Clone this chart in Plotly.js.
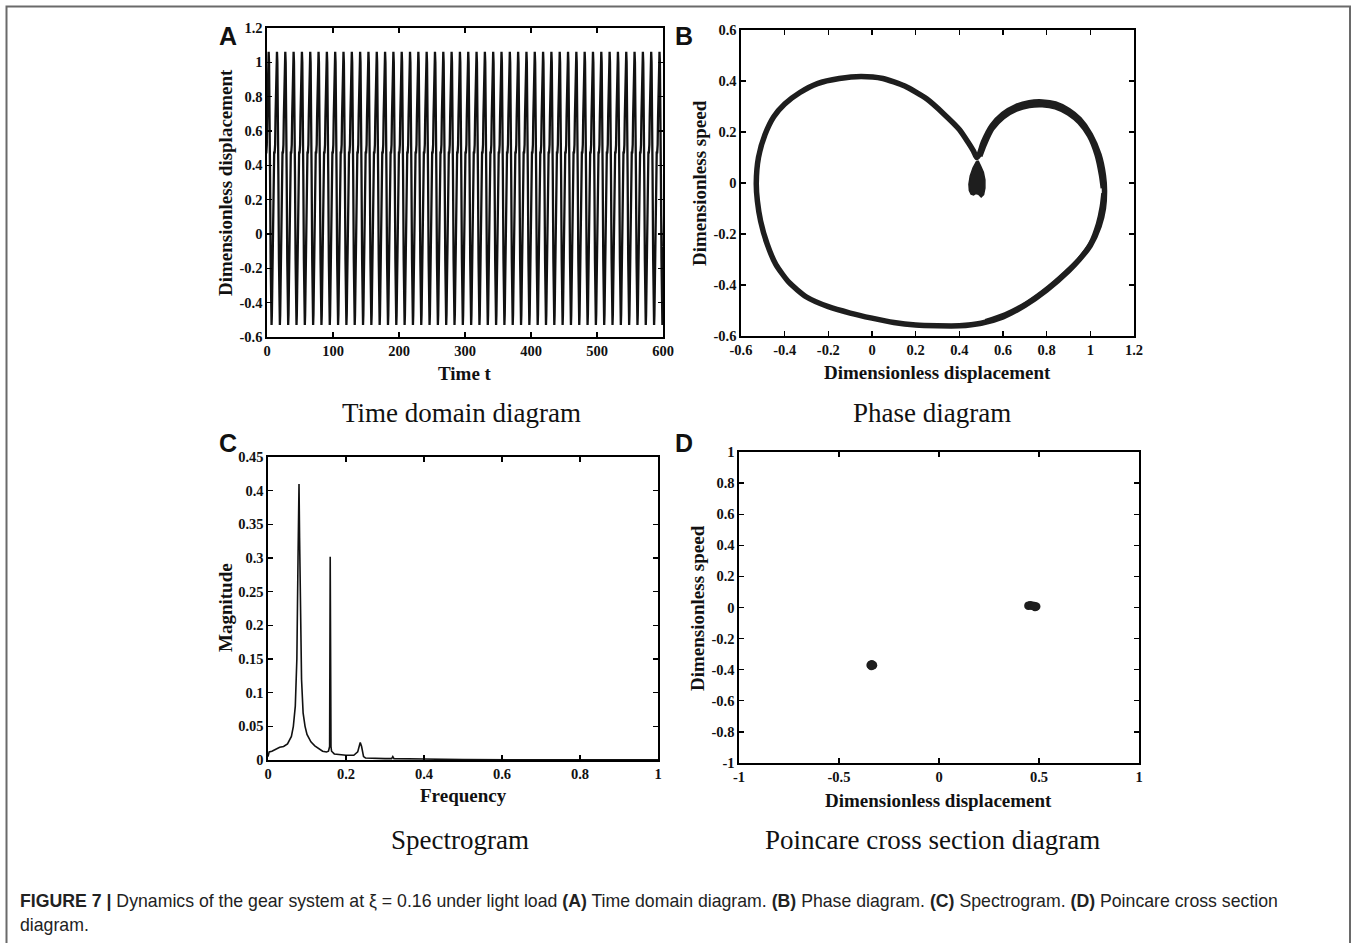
<!DOCTYPE html>
<html>
<head>
<meta charset="utf-8">
<script src="https://cdn.plot.ly/plotly-3.0.1.min.js"></script>
<style>html,body{margin:0;padding:0;background:#fff;} #chart{width:1354px;height:943px;}</style>
</head>
<body>
<div id="chart"></div>
<script>
// ---------- (A) time domain: one measured cycle, repeated with the observed period ----------
const cycleT = [0, 0.5, 1.0, 1.8, 2.6, 3.2, 3.6, 4.0, 4.6, 5.0, 5.4, 6.0, 6.8, 7.6, 8.2, 8.8, 9.5, 10.3, 11.2, 12.0, 12.6];
const cycleX = [-0.53, -0.47, -0.33, -0.05, 0.2, 0.38, 0.45, 0.48, 0.47, 0.49, 0.52, 0.68, 0.88, 1.03, 1.062, 1.0, 0.78, 0.35, -0.15, -0.46, -0.53];
const period = 12.6;
const firstCycleStart = -5.7;
const nCycles = 49;

// ---------- (B) phase diagram ----------
const phaseX = [-0.53, -0.52, -0.49, -0.45, -0.40, -0.33, -0.25, -0.15, -0.05, 0.05, 0.15, 0.25, 0.33, 0.40, 0.44, 0.465, 0.479,
  0.49, 0.51, 0.55, 0.60, 0.66, 0.72, 0.78, 0.84, 0.90, 0.95, 1.00, 1.04, 1.06, 1.065, 1.06, 1.04, 1.00, 0.95, 0.90, 0.80, 0.70, 0.60, 0.50, 0.40, 0.30, 0.20, 0.10, 0.0, -0.10, -0.20, -0.30, -0.38, -0.44, -0.48, -0.51, -0.525, -0.53];
const phaseV = [0.0, 0.10, 0.19, 0.26, 0.31, 0.355, 0.39, 0.41, 0.418, 0.41, 0.38, 0.33, 0.27, 0.21, 0.16, 0.125, 0.10,
  0.11, 0.16, 0.225, 0.27, 0.30, 0.315, 0.318, 0.31, 0.285, 0.25, 0.19, 0.11, 0.03, -0.03, -0.10, -0.17, -0.245, -0.30, -0.345, -0.42, -0.48, -0.525, -0.55, -0.56, -0.56, -0.557, -0.547, -0.53, -0.51, -0.485, -0.447, -0.39, -0.32, -0.24, -0.15, -0.07, 0.0];
// inner edge of the wider top of the right-hand lobe
const lobeInnerX = [0.495, 0.515, 0.55, 0.60, 0.66, 0.72, 0.78, 0.84, 0.90, 0.95, 0.995, 1.03, 1.05, 1.058];
const lobeInnerV = [0.105, 0.15, 0.212, 0.258, 0.288, 0.303, 0.306, 0.298, 0.273, 0.238, 0.185, 0.11, 0.03, -0.02];
// lower-right band, slightly wider
const lowInnerX = [1.06, 1.052, 1.035, 1.0, 0.955, 0.905, 0.81, 0.71, 0.61, 0.52];
const lowInnerV = [-0.04, -0.095, -0.16, -0.238, -0.292, -0.336, -0.408, -0.47, -0.515, -0.542];
// small pear-shaped knot near x = 0.48
const knotX = [0.479, 0.463, 0.450, 0.444, 0.446, 0.454, 0.465, 0.476, 0.488, 0.500, 0.511, 0.517, 0.517, 0.510, 0.498, 0.487, 0.479];
const knotV = [0.085, 0.06, 0.028, -0.005, -0.03, -0.044, -0.047, -0.041, -0.044, -0.055, -0.046, -0.02, 0.012, 0.042, 0.065, 0.085, 0.085];

// ---------- (C) spectrogram ----------
const specF = [0, 0.003, 0.01, 0.02, 0.03, 0.04, 0.05, 0.06, 0.065, 0.07, 0.074, 0.077, 0.0795, 0.081, 0.083, 0.086, 0.09, 0.095, 0.10, 0.11, 0.12, 0.13, 0.14, 0.15, 0.155, 0.158, 0.1595, 0.1615, 0.163, 0.17, 0.18, 0.20, 0.22, 0.23, 0.2365, 0.24, 0.245, 0.25, 0.30, 0.317, 0.32, 0.323, 0.40, 0.47, 0.50, 0.70, 1.0];
const specM = [0.005, 0.012, 0.013, 0.016, 0.019, 0.02, 0.024, 0.035, 0.05, 0.08, 0.15, 0.30, 0.41, 0.33, 0.2, 0.12, 0.07, 0.05, 0.038, 0.027, 0.021, 0.017, 0.013, 0.012, 0.013, 0.02, 0.302, 0.02, 0.013, 0.009, 0.008, 0.007, 0.007, 0.012, 0.026, 0.02, 0.005, 0.003, 0.002, 0.002, 0.005, 0.002, 0.0015, 0.001, 0.0005, 0.0004, 0.0003];

// ---------- (D) Poincare section ----------
const poinX = [-0.342, -0.336, -0.33, -0.338, 0.447, 0.456, 0.466, 0.476, 0.486, 0.48];
const poinY = [-0.37, -0.365, -0.372, -0.376, 0.012, 0.014, 0.012, 0.01, 0.006, 0.004];

// ---------- tick labels ----------
const tickA_x = [0, 100, 200, 300, 400, 500, 600];
const tickA_y = [-0.6, -0.4, -0.2, 0, 0.2, 0.4, 0.6, 0.8, 1, 1.2];
const tickB_x = [-0.6, -0.4, -0.2, 0, 0.2, 0.4, 0.6, 0.8, 1, 1.2];
const tickB_y = [-0.6, -0.4, -0.2, 0, 0.2, 0.4, 0.6];
const tickC_x = [0, 0.2, 0.4, 0.6, 0.8, 1];
const tickC_y = [0, 0.05, 0.1, 0.15, 0.2, 0.25, 0.3, 0.35, 0.4, 0.45];
const tickD_x = [-1, -0.5, 0, 0.5, 1];
const tickD_y = [-1, -0.8, -0.6, -0.4, -0.2, 0, 0.2, 0.4, 0.6, 0.8, 1];

// build time series from the repeated cycle
const tdT = [], tdX = [];
for (let k = 0; k < nCycles; k++) {
  for (let i = 0; i < cycleT.length - 1; i++) {
    tdT.push(firstCycleStart + k * period + cycleT[i]);
    tdX.push(cycleX[i]);
  }
}

const W = 1354, H = 943;
const px = v => v / W, py = v => 1 - v / H;
const lbl = v => String(v);

const serif = 'Liberation Serif, Times New Roman, serif';
const sans = 'Liberation Sans, Arial, sans-serif';

function axis(dom, range, ticks, anchor) {
  return {
    domain: dom, range: range, anchor: anchor,
    tickmode: 'array', tickvals: ticks, ticktext: ticks.map(lbl),
    ticks: 'inside', ticklen: 5, tickwidth: 1.3, tickcolor: '#000',
    showline: true, linecolor: '#000', linewidth: 1.6, mirror: 'ticks',
    showgrid: false, zeroline: false,
    tickfont: {family: serif, size: 14.5, color: '#111', weight: 'bold'},
    fixedrange: true
  };
}

const band = {color: '#1e1e1e', shape: 'spline', smoothing: 0.6};
const traces = [
  {x: tdT, y: tdX, xaxis: 'x', yaxis: 'y', mode: 'lines', line: {color: '#111', width: 2.3}, hoverinfo: 'skip'},
  {x: phaseX, y: phaseV, xaxis: 'x2', yaxis: 'y2', mode: 'lines', line: Object.assign({width: 5.5}, band), hoverinfo: 'skip'},
  {x: lobeInnerX, y: lobeInnerV, xaxis: 'x2', yaxis: 'y2', mode: 'lines', line: Object.assign({width: 5}, band), hoverinfo: 'skip'},
  {x: lowInnerX, y: lowInnerV, xaxis: 'x2', yaxis: 'y2', mode: 'lines', line: Object.assign({width: 4.5}, band), hoverinfo: 'skip'},
  {x: knotX, y: knotV, xaxis: 'x2', yaxis: 'y2', mode: 'lines', fill: 'toself', fillcolor: '#1e1e1e', line: {color: '#1e1e1e', width: 1.5}, hoverinfo: 'skip'},
  {x: specF, y: specM, xaxis: 'x3', yaxis: 'y3', mode: 'lines', line: {color: '#111', width: 1.6}, hoverinfo: 'skip'},
  {x: poinX, y: poinY, xaxis: 'x4', yaxis: 'y4', mode: 'markers', marker: {color: '#1e1e1e', size: 8.5}, hoverinfo: 'skip'}
];

const ann = [];
function txt(text, x, y, size, opts) {
  ann.push(Object.assign({text: text, x: px(x), y: py(y), xref: 'paper', yref: 'paper', showarrow: false,
    xanchor: 'center', yanchor: 'middle', font: {family: serif, size: size, color: '#111'}}, opts || {}));
}
// panel letters
[['A', 228, 36], ['B', 684, 36], ['C', 228, 443], ['D', 684, 443]].forEach(d =>
  txt(d[0], d[1], d[2], 25, {font: {family: sans, size: 25, color: '#111', weight: 'bold'}}));
// axis titles
const tf = {family: serif, size: 19, color: '#111', weight: 'bold'};
txt('Time t', 465, 373, 19, {font: tf});
txt('Dimensionless displacement', 225, 183, 19, {font: tf, textangle: -90});
txt('Dimensionless displacement', 937, 372, 19, {font: tf});
txt('Dimensionless speed', 699, 183, 19, {font: tf, textangle: -90});
txt('Frequency', 463, 795, 19, {font: tf});
txt('Magnitude', 225, 608, 19, {font: tf, textangle: -90});
txt('Dimensionless displacement', 938, 800, 19, {font: tf});
txt('Dimensionless speed', 697, 608, 19, {font: tf, textangle: -90});
// subtitles
txt('Time domain diagram', 461, 413, 27);
txt('Phase diagram', 932, 413, 27);
txt('Spectrogram', 460, 840, 27);
txt('Poincare cross section diagram', 932, 840, 27);
// caption
const cf = {family: sans, size: 17.7, color: '#222'};
ann.push({text: '<b>FIGURE 7 |</b> Dynamics of the gear system at ξ = 0.16 under light load <b>(A)</b> Time domain diagram. <b>(B)</b> Phase diagram. <b>(C)</b> Spectrogram. <b>(D)</b> Poincare cross section',
  x: px(18), y: py(901), xref: 'paper', yref: 'paper', showarrow: false, xanchor: 'left', yanchor: 'middle', align: 'left', font: cf});
ann.push({text: 'diagram.', x: px(18), y: py(925), xref: 'paper', yref: 'paper', showarrow: false, xanchor: 'left', yanchor: 'middle', align: 'left', font: cf});

const layout = {
  width: W, height: H, margin: {l: 0, r: 0, t: 0, b: 0},
  paper_bgcolor: '#fff', plot_bgcolor: '#fff', showlegend: false,
  xaxis: axis([px(267), px(663)], [0, 600], tickA_x, 'y'),
  yaxis: axis([py(337), py(28)], [-0.6, 1.2], tickA_y, 'x'),
  xaxis2: axis([px(741), px(1134)], [-0.6, 1.2], tickB_x, 'y2'),
  yaxis2: axis([py(336), py(30)], [-0.6, 0.6], tickB_y, 'x2'),
  xaxis3: axis([px(268), px(658)], [0, 1], tickC_x, 'y3'),
  yaxis3: axis([py(760), py(457)], [0, 0.45], tickC_y, 'x3'),
  xaxis4: axis([px(739), px(1139)], [-1, 1], tickD_x, 'y4'),
  yaxis4: axis([py(763), py(452)], [-1, 1], tickD_y, 'x4'),
  annotations: ann,
  shapes: [{type: 'rect', xref: 'paper', yref: 'paper', x0: px(6.5), x1: px(1350), y0: -0.05, y1: py(6.5),
    line: {color: '#6a6a6a', width: 2}, fillcolor: 'rgba(0,0,0,0)'}]
};

Plotly.newPlot('chart', traces, layout, {staticPlot: true, displayModeBar: false});
</script>
</body>
</html>
